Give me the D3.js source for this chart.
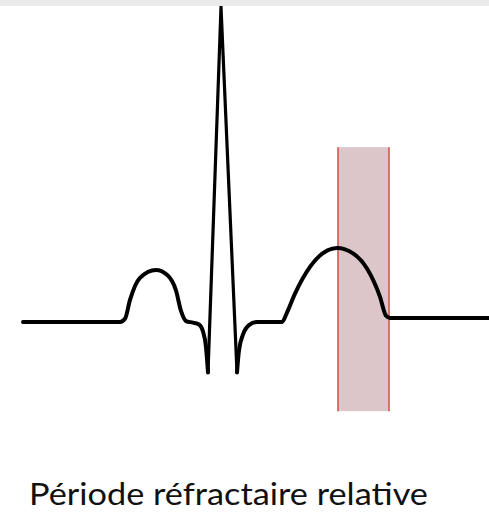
<!DOCTYPE html>
<html>
<head>
<meta charset="utf-8">
<script src="https://cdn.jsdelivr.net/npm/d3@7"></script>
<style>
  html, body { margin: 0; padding: 0; background: #fff; }
  svg { display: block; }
</style>
</head>
<body>
<svg id="chart" width="489" height="525"></svg>
<script>
// ---- Data (time in px-like units, voltage in mV) ----
// Smooth part before QRS: baseline, P wave, PR segment, Q descent
const preTime = [23, 120, 125, 130, 140, 156, 167, 176, 181, 186, 193, 199, 203, 206, 208];
const preVolt = [0, 0, 0.010, 0.070, 0.140, 0.165, 0.150, 0.100, 0.035, 0.003, -0.002, -0.008, -0.030, -0.080, -0.160];
// QRS complex (sharp)
const qrsTime = [208, 221, 237];
const qrsVolt = [-0.160, 1.000, -0.160];
// Smooth part after QRS: S recovery, ST segment, T wave, baseline
const postTime = [237, 239, 243, 249, 257, 282, 287, 295, 310, 337, 353, 367, 380, 386, 390, 489];
const postVolt = [-0.160, -0.090, -0.040, -0.010, 0.000, 0.000, 0.030, 0.090, 0.175, 0.235, 0.218, 0.170, 0.080, 0.020, 0.013, 0.013];
// Relative refractory period window
const periodStart = 338;
const periodEnd = 389;
const periodTop = 0.555;   // mV
const periodBottom = -0.283; // mV
const label = "Période réfractaire relative";

const svg = d3.select("#chart");
const W = 489, H = 525;

const x = d3.scaleLinear().domain([0, 489]).range([0, 489]);
const y = d3.scaleLinear().domain([0, 1]).range([322, 7]);

// refractory window
svg.append("rect")
  .attr("x", x(periodStart)).attr("y", y(periodTop))
  .attr("width", x(periodEnd) - x(periodStart))
  .attr("height", y(periodBottom) - y(periodTop))
  .attr("fill", "#dcc6c9");
[periodStart, periodEnd].forEach(t => {
  svg.append("line")
    .attr("x1", x(t)).attr("x2", x(t))
    .attr("y1", y(periodTop)).attr("y2", y(periodBottom))
    .attr("stroke", "#d9534f").attr("stroke-width", 1.6);
});

const zip = (ts, vs) => ts.map((t, i) => [t, vs[i]]);
const smooth = d3.line().x(d => x(d[0])).y(d => y(d[1])).curve(d3.curveMonotoneX);
const sharp = d3.line().x(d => x(d[0])).y(d => y(d[1])).curve(d3.curveLinear);

const g = svg.append("g")
  .attr("fill", "none").attr("stroke", "#000")
  .attr("stroke-linejoin", "round").attr("stroke-linecap", "round");

g.append("path").attr("d", smooth(zip(preTime, preVolt))).attr("stroke-width", 4);
g.append("path").attr("d", sharp(zip(qrsTime, qrsVolt))).attr("stroke-width", 3.2).attr("stroke-linejoin", "miter").attr("stroke-miterlimit", 40);
g.append("path").attr("d", smooth(zip(postTime, postVolt))).attr("stroke-width", 4);

// top gray band (drawn over the R peak tip)
svg.append("rect").attr("x", 0).attr("y", 0).attr("width", W).attr("height", 6).attr("fill", "#ebebeb");

// label
svg.append("text")
  .attr("x", 29).attr("y", 505)
  .attr("font-family", "Lato, 'Open Sans', sans-serif")
  .attr("font-size", 31)
  .attr("fill", "#111")
  .attr("textLength", 399)
  .attr("lengthAdjust", "spacingAndGlyphs")
  .text(label);
</script>
</body>
</html>
